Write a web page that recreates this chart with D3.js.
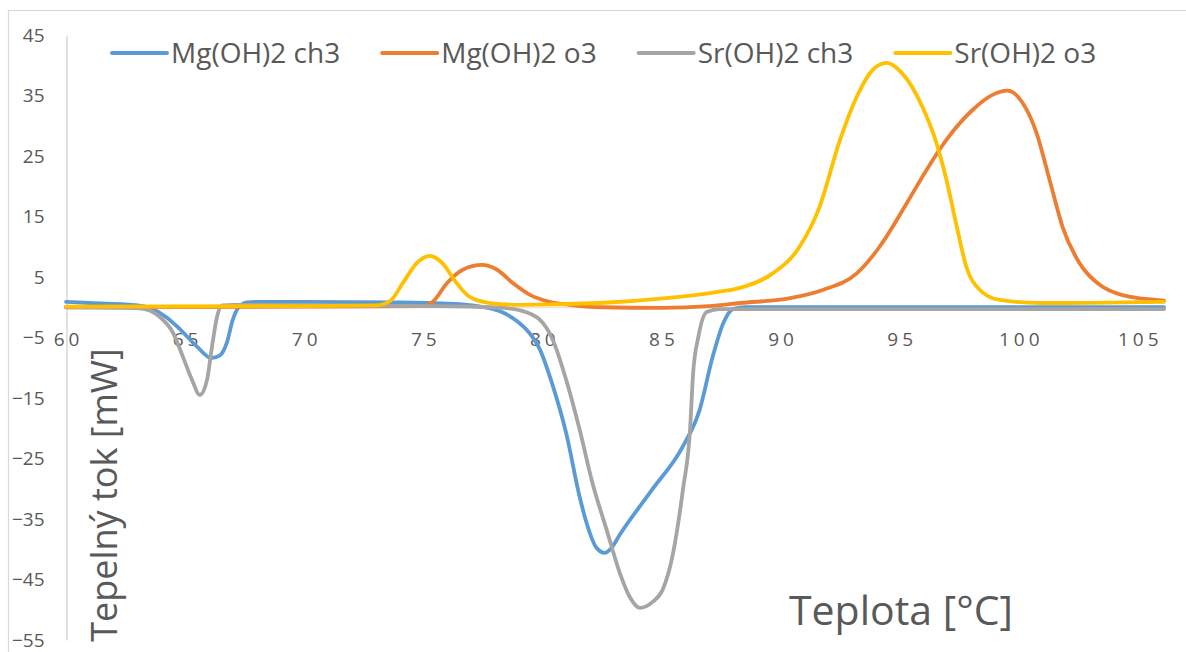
<!DOCTYPE html>
<html>
<head>
<meta charset="utf-8">
<script src="https://cdn.jsdelivr.net/npm/d3@7"></script>
<style>
  body { margin: 0; background: #fff; }
  svg { display: block; font-family: "Open Sans", sans-serif; }
</style>
</head>
<body>
<svg id="chart" width="1186" height="652"></svg>
<script>
// DSC heat-flow curves: temperature (°C) against heat flow (mW)
const seriesNames  = ["Mg(OH)2 ch3", "Mg(OH)2 o3", "Sr(OH)2 ch3", "Sr(OH)2 o3"];
const seriesColors = ["#5B9BD5", "#ED7D31", "#A5A5A5", "#FFC000"];

const mgCh3T = [60, 61, 62.8, 63.5, 64.2, 64.8, 65.5, 66.1, 66.45, 66.75, 67.0, 67.25, 67.6, 68, 70, 74, 76, 77.4, 78.3, 78.9, 79.4, 79.9, 80.4, 81.0, 81.57, 81.86, 82.28, 82.62, 82.9, 83.25, 84.6, 85.9, 86.6, 87.15, 87.6, 88.0, 88.5, 95, 106.1];
const mgCh3V = [0.9, 0.7, 0.4, -0.1, -1.6, -3.7, -6.5, -8.4, -8.0, -5.9, -2.1, 0.0, 0.8, 0.9, 0.9, 0.8, 0.6, 0.1, -0.8, -2.2, -4.0, -7.0, -12.5, -20.8, -31.4, -35.7, -39.8, -40.6, -39.8, -37.6, -30.2, -23.0, -17.0, -8.2, -2.6, -0.3, 0.0, 0.0, 0.0];

const mgO3T = [60, 70, 75, 75.4, 76, 76.66, 77.46, 78.1, 78.76, 79.5, 80.3, 81.15, 82.5, 85, 87, 88.3, 90.4, 91.8, 93.2, 94.16, 95.3, 96.13, 96.97, 98.06, 98.9, 99.53, 100.16, 100.75, 101.3, 101.84, 102.55, 103.4, 104.36, 106.1];
const mgO3V = [0.0, 0.1, 0.2, 0.9, 4.0, 6.2, 7.0, 6.2, 4.0, 2.0, 0.9, 0.4, 0.0, -0.1, 0.2, 0.7, 1.5, 2.9, 5.6, 10.0, 17.2, 22.7, 27.7, 32.6, 35.1, 35.8, 33.8, 28.8, 21.0, 13.3, 7.3, 3.7, 2.0, 1.1];

const srCh3T = [60, 62, 63.1, 63.94, 64.49, 64.91, 65.29, 65.62, 65.92, 66.13, 66.34, 66.55, 67, 70, 75, 77, 78.3, 79.05, 79.9, 80.44, 81.0, 81.57, 82.1, 82.7, 83.25, 83.67, 84.09, 84.63, 85.05, 85.47, 85.9, 86.2, 86.33, 86.55, 86.9, 87.44, 95, 106.1];
const srCh3V = [0.0, -0.1, -0.2, -1.6, -4.2, -8.2, -12.0, -14.5, -12.0, -6.5, -1.6, 0.3, 0.4, 0.3, 0.2, 0.1, -0.1, -0.5, -2.1, -5.4, -12.0, -20.3, -29.0, -36.8, -43.9, -47.9, -49.7, -48.7, -46.7, -41.0, -30.2, -20.3, -10.9, -4.9, -0.8, -0.3, -0.3, -0.3];

const srO3T = [60, 70, 73, 73.6, 74.14, 74.73, 75.27, 75.8, 76.4, 76.95, 77.8, 79, 82.4, 85.2, 87.3, 88.3, 89.67, 90.8, 91.64, 92.5, 93.2, 93.86, 94.45, 95.1, 95.96, 96.5, 96.97, 97.4, 97.8, 98.36, 99.2, 100.9, 106.1];
const srO3V = [0.1, 0.2, 0.3, 1.0, 4.0, 7.3, 8.5, 7.3, 4.0, 1.7, 0.7, 0.4, 0.7, 1.5, 2.5, 3.2, 5.6, 10.0, 16.6, 27.7, 34.8, 39.2, 40.4, 38.7, 33.1, 27.7, 21.0, 13.3, 6.7, 2.9, 1.2, 0.7, 0.9];

const xTicks = [60, 65, 70, 75, 80, 85, 90, 95, 100, 105];
const yTicks = [45, 35, 25, 15, 5, -5, -15, -25, -35, -45, -55];

const xLabel = "Teplota [°C]";
const yLabel = "Tepelný tok [mW]";

const seriesT = [mgCh3T, mgO3T, srCh3T, srO3T];
const seriesV = [mgCh3V, mgO3V, srCh3V, srO3V];
const series = seriesNames.map((name, i) => ({
  name,
  color: seriesColors[i],
  points: seriesT[i].map((t, j) => ({ t, v: seriesV[i][j] }))
}));

const svg = d3.select("#chart");
const textColor = "#595959";
const axisColor = "#D9D9D9";

// chart frame
svg.append("rect")
  .attr("x", 8.5).attr("y", 10.5)
  .attr("width", 1300).attr("height", 800)
  .attr("fill", "#fff").attr("stroke", axisColor).attr("stroke-width", 1.2);

const x = d3.scaleLinear().domain([60, 106.1]).range([66, 1164]);
const y = d3.scaleLinear().domain([-55, 45]).range([640, 35]);

// horizontal axis through zero
const xAxis = svg.append("g")
  .attr("transform", `translate(0,${y(0)})`)
  .call(d3.axisBottom(x).tickValues(xTicks).tickSize(0).tickSizeOuter(0).tickPadding(25));
xAxis.select(".domain").attr("stroke", axisColor).attr("stroke-width", 1.2);
xAxis.selectAll("text")
  .attr("fill", textColor)
  .attr("font-family", "Open Sans, sans-serif")
  .attr("font-size", 19)
  .attr("letter-spacing", 4)
  .attr("dx", 2);

// vertical axis
const yAxis = svg.append("g")
  .attr("transform", `translate(66.5,0)`)
  .call(d3.axisLeft(y).tickValues(yTicks).tickSize(0).tickSizeOuter(0).tickPadding(22));
yAxis.select(".domain").attr("stroke", axisColor).attr("stroke-width", 1.5);
yAxis.selectAll("text")
  .attr("fill", textColor)
  .attr("font-family", "Open Sans, sans-serif")
  .attr("font-size", 19);

// curves
const line = d3.line()
  .x(d => x(d.t))
  .y(d => y(d.v))
  .curve(d3.curveMonotoneX);

svg.append("g").selectAll("path")
  .data(series)
  .join("path")
  .attr("d", d => line(d.points))
  .attr("fill", "none")
  .attr("stroke", d => d.color)
  .attr("stroke-width", 3.8)
  .attr("stroke-linejoin", "round")
  .attr("stroke-linecap", "round");

// legend, laid out left to right
const legend = svg.append("g");
let cx = 112;
series.forEach(s => {
  legend.append("line")
    .attr("x1", cx).attr("x2", cx + 55)
    .attr("y1", 53).attr("y2", 53)
    .attr("stroke", s.color).attr("stroke-width", 4)
    .attr("stroke-linecap", "round");
  const t = legend.append("text")
    .attr("x", cx + 59).attr("y", 63)
    .attr("fill", textColor)
    .attr("font-size", 28)
    .text(s.name);
  cx += 59 + t.node().getComputedTextLength() + 42;
});

// axis titles
svg.append("text")
  .attr("x", 901).attr("y", 625)
  .attr("text-anchor", "middle")
  .attr("fill", textColor)
  .attr("font-size", 41)
  .text(xLabel);

svg.append("text")
  .attr("transform", "translate(117,495) rotate(-90)")
  .attr("text-anchor", "middle")
  .attr("fill", textColor)
  .attr("font-size", 36)
  .text(yLabel);
</script>
</body>
</html>
